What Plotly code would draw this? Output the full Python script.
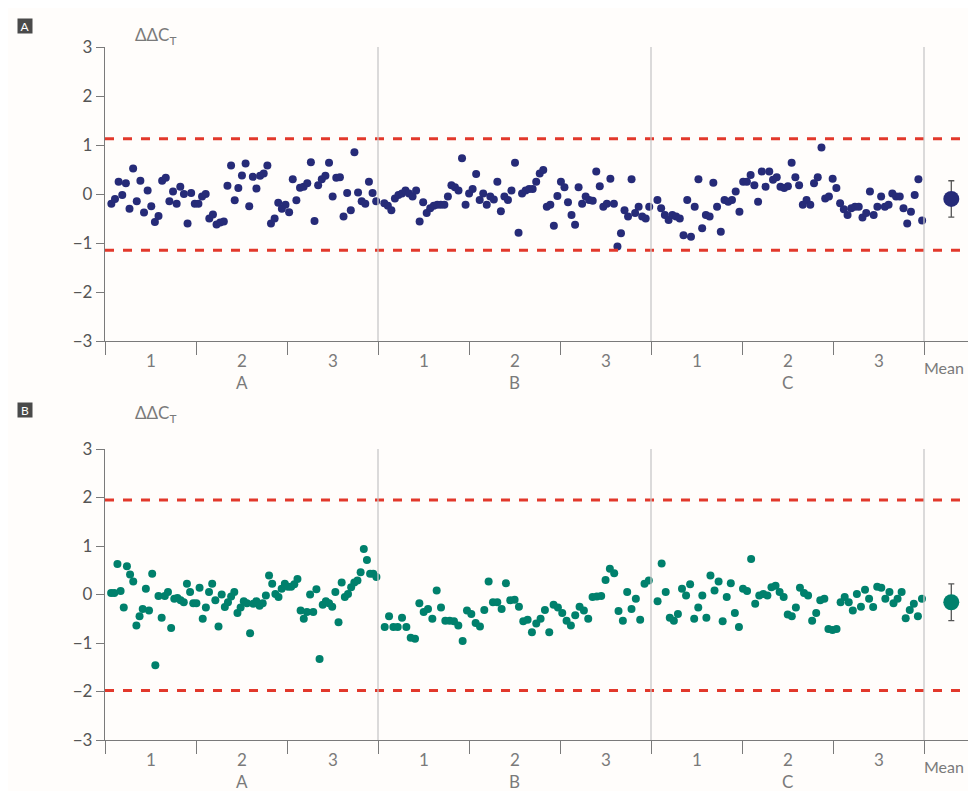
import plotly.graph_objects as go
from plotly.subplots import make_subplots

# panel A, values per group (A, B, C)
a_group_a = [-0.2, -0.1, 0.25, -0.02, 0.22, -0.3, 0.52, -0.15, 0.27, -0.38, 0.07, -0.25, -0.57, -0.45,
             0.27, 0.33, -0.15, 0.05, -0.2, 0.15, 0.0, -0.6, 0.02, -0.2, -0.2, -0.05, 0.0, -0.5, -0.42,
             -0.62, -0.58, -0.56, 0.17, 0.58, -0.13, 0.12, 0.38, 0.62, -0.25, 0.35, 0.11, 0.37, 0.42,
             0.58, -0.6, -0.5, -0.18, -0.3, -0.22, -0.37, 0.3, -0.13, 0.13, 0.15, 0.22, 0.65, -0.55,
             0.18, 0.3, 0.37, 0.64, -0.05, 0.33, 0.34, -0.46, 0.02, -0.33, 0.85, 0.03, -0.15, -0.2,
             0.25, 0.02, -0.15]
a_group_b = [-0.19, -0.24, -0.33, -0.09, -0.02, 0.01, 0.07, 0.01, -0.05, 0.07, -0.56, -0.17, -0.39,
             -0.29, -0.24, -0.22, -0.22, -0.22, -0.05, 0.18, 0.14, 0.07, 0.73, -0.22, 0.01, 0.1, 0.41,
             -0.12, 0.01, -0.22, -0.05, -0.11, 0.25, -0.35, -0.05, -0.12, 0.07, 0.64, -0.79, 0.01, 0.07,
             0.1, 0.1, 0.25, 0.42, 0.49, -0.26, -0.22, -0.65, -0.04, 0.25, 0.14, -0.17, -0.43, -0.63,
             0.14, -0.2, -0.05, -0.12, -0.14, 0.46, 0.16, -0.26, -0.2, 0.31, -0.2, -1.07, -0.8, -0.33,
             -0.46, 0.3, -0.39, -0.26, -0.46, -0.5, -0.26]
a_group_c = [-0.12, -0.29, -0.43, -0.53, -0.43, -0.46, -0.5, -0.84, -0.12, -0.87, -0.26, 0.3, -0.7,
             -0.43, -0.46, 0.23, -0.26, -0.77, -0.12, -0.16, -0.12, 0.05, -0.36, 0.25, 0.25, 0.39, 0.18,
             -0.16, 0.46, 0.15, 0.46, 0.29, 0.34, 0.15, 0.12, 0.16, 0.64, 0.34, 0.18, -0.22, -0.12,
             -0.22, 0.22, 0.34, 0.95, -0.09, -0.05, 0.31, 0.12, -0.19, -0.31, -0.43, -0.29, -0.26,
             -0.26, -0.48, -0.39, 0.05, -0.43, -0.26, -0.05, -0.26, -0.22, 0.01, -0.05, -0.05, -0.29,
             -0.6, -0.36, -0.02, 0.3, -0.54]

# panel B
b_group_a = [0.03, 0.03, 0.63, 0.07, -0.27, 0.58, 0.41, 0.27, -0.64, -0.45, -0.3, 0.12, -0.33, 0.43,
             -1.46, -0.03, -0.48, -0.03, 0.05, -0.69, -0.09, -0.07, -0.12, -0.16, 0.22, 0.05, -0.18,
             -0.18, 0.14, -0.5, -0.27, 0.05, 0.22, -0.12, -0.66, 0.0, -0.26, -0.16, -0.04, 0.05, -0.38,
             -0.27, -0.14, -0.18, -0.8, -0.19, -0.14, -0.23, -0.18, -0.02, 0.39, 0.22, 0.01, -0.05,
             0.12, 0.22, 0.16, 0.16, 0.21, 0.32, -0.33, -0.5, -0.36, -0.0, -0.36, 0.11, -1.33, -0.21,
             -0.14, -0.18, -0.25, 0.05, -0.57, 0.25, -0.05, 0.01, 0.15, 0.25, 0.29, 0.46, 0.94, 0.71,
             0.43, 0.43, 0.36]
b_group_b = [-0.67, -0.45, -0.67, -0.67, -0.48, -0.67, -0.89, -0.91, -0.18, -0.36, -0.3, -0.5, 0.08,
             -0.27, -0.54, -0.54, -0.55, -0.64, -0.96, -0.33, -0.4, -0.59, -0.66, -0.32, 0.27, -0.16,
             -0.16, -0.3, 0.23, -0.12, -0.11, -0.25, -0.55, -0.52, -0.78, -0.6, -0.5, -0.32, -0.78,
             -0.21, -0.27, -0.38, -0.54, -0.64, -0.43, -0.25, -0.33, -0.5, -0.05, -0.04, -0.03, 0.3,
             0.53, 0.44, -0.34, -0.54, 0.05, -0.3, -0.09, -0.52, 0.22, 0.29]
b_group_c = [-0.14, 0.64, 0.05, -0.48, -0.54, -0.4, 0.12, -0.02, 0.21, -0.5, -0.27, -0.02, -0.48,
             0.39, 0.08, 0.27, -0.55, -0.05, 0.23, -0.38, -0.67, 0.12, 0.07, 0.73, -0.19, -0.02, 0.01,
             -0.02, 0.15, 0.18, 0.05, -0.05, -0.41, -0.45, -0.27, 0.14, 0.03, -0.02, -0.54, -0.38,
             -0.12, -0.09, -0.71, -0.73, -0.71, -0.16, -0.05, -0.16, -0.33, 0.01, -0.25, 0.1, -0.09,
             -0.26, 0.16, 0.14, -0.09, 0.05, -0.18, -0.09, 0.05, -0.49, -0.32, -0.19, -0.45, -0.09]

mean_a, err_a = -0.1, 0.37
mean_b, err_b = -0.16, 0.38
limits_a = [1.13, -1.15]
limits_b = [1.95, -1.98]
sub_labels = ["1", "2", "3"]
group_labels = ["A", "B", "C"]

NAVY = "#262b78"
TEAL = "#00806c"
RED = "#e2382b"
GRAY = "#7a7a7a"
FONT = "Lato"

# the page body has an 8px margin, so the figure is made smaller and positions shifted
OFF = 8
W, H = 976 - OFF - 1, 792 - OFF - 1
LEFT = 105 - OFF
PLOT_W = W - LEFT


def px_x(x):
    return (x - OFF - LEFT) / PLOT_W


def px_y(y):
    return 1 - (y - OFF) / H


fig = make_subplots(rows=2, cols=1, vertical_spacing=0.12)
fig.update_layout(
    width=W, height=H, margin=dict(l=LEFT, r=0, t=0, b=0),
    paper_bgcolor="#fffdfb", plot_bgcolor="#fffdfb", showlegend=False,
    font=dict(family=FONT, color=GRAY, size=17),
)

panels = [(1, [a_group_a, a_group_b, a_group_c], mean_a, err_a, limits_a, NAVY),
          (2, [b_group_a, b_group_b, b_group_c], mean_b, err_b, limits_b, TEAL)]

for row, groups, mean, err, limits, color in panels:
    xs, ys = [], []
    for g, vals in enumerate(groups):
        n = len(vals)
        xs += [g * 3 + 0.05 + (i + 0.5) / n * 2.95 for i in range(n)]
        ys += vals
    fig.add_trace(go.Scatter(x=xs, y=ys, mode="markers",
                             marker=dict(color=color, size=8)), row=row, col=1)
    fig.add_trace(go.Scatter(x=[9.3], y=[mean], mode="markers",
                             marker=dict(color=color, size=16),
                             error_y=dict(type="data", array=[err], color="#555",
                                          thickness=1.3, width=3)), row=row, col=1)
    for lim in limits:
        fig.add_hline(y=lim, line=dict(color=RED, width=3, dash="dash"), row=row, col=1)
    for vx in [3, 6, 9]:
        fig.add_shape(type="line", x0=vx, x1=vx, y0=-3, y1=3.0,
                      line=dict(color="#c8c8c8", width=1.3), row=row, col=1)

    xref = "x" if row == 1 else "x2"
    yref = "y" if row == 1 else "y2"
    for g, glab in enumerate(group_labels):
        for s, slab in enumerate(sub_labels):
            fig.add_annotation(x=g * 3 + s + 0.5, y=-3, xref=xref, yref=yref, text=slab,
                               showarrow=False, yshift=-19, font=dict(size=17, color=GRAY))
        fig.add_annotation(x=g * 3 + 1.5, y=-3, xref=xref, yref=yref, text=glab,
                           showarrow=False, yshift=-41, font=dict(size=17, color=GRAY))
    fig.add_annotation(x=1, y=-3, xref="paper", yref=yref, text="Mean", xanchor="right",
                       showarrow=False, yshift=-26, xshift=-9, font=dict(size=16, color=GRAY))

fig.update_xaxes(range=[0, PLOT_W / 91], tickvals=list(range(10)), ticks="outside", ticklen=13,
                 tickcolor=GRAY, showticklabels=False, showgrid=False, zeroline=False,
                 showline=True, linecolor=GRAY, linewidth=1.3, automargin=False)
fig.update_yaxes(range=[-3, 3], tickvals=[-3, -2, -1, 0, 1, 2, 3], ticks="outside", ticklen=8,
                 tickcolor=GRAY, showgrid=False, zeroline=False, showline=True,
                 linecolor=GRAY, linewidth=1.3, tickfont=dict(size=17, color="#555"),
                 automargin=False)
fig.update_yaxes(domain=[px_y(341), px_y(47)], row=1, col=1)
fig.update_yaxes(domain=[px_y(740), px_y(449)], row=2, col=1)

for label, ypix in [("A", 18), ("B", 410)]:
    fig.add_annotation(x=px_x(17), y=px_y(ypix), xref="paper", yref="paper", text=label,
                       showarrow=False, bgcolor="#4a4a4a", font=dict(color="white", size=12),
                       width=14, height=14, borderpad=0)
    fig.add_annotation(x=px_x(133), y=px_y(ypix + 4), xref="paper", yref="paper", xanchor="left",
                       text="ΔΔC<sub>T</sub>", showarrow=False, font=dict(size=17, color=GRAY))

fig.write_html("out.html")
